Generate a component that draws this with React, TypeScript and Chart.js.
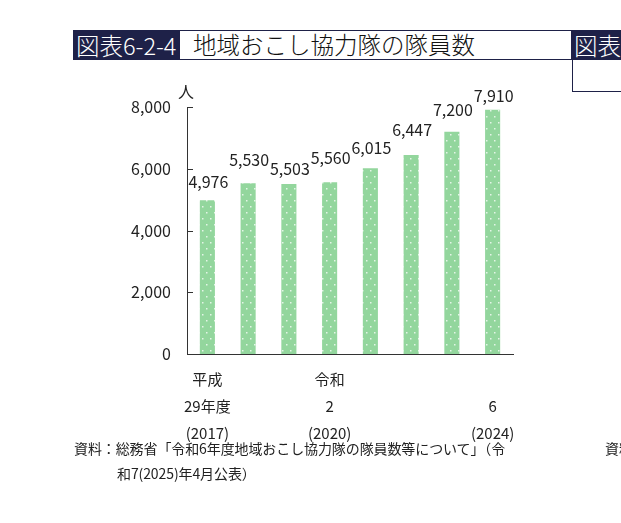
import { useEffect, useRef } from 'react';
import { Chart, registerables } from 'chart.js';

Chart.register(...registerables);

// data (地域おこし協力隊の隊員数)
const categories: string[][] = [
  ['平成', '29年度', '(2017)'],
  ['', '', ''],
  ['', '', ''],
  ['令和', '2', '(2020)'],
  ['', '', ''],
  ['', '', ''],
  ['', '', ''],
  ['', '6', '(2024)'],
];
const members = [4976, 5530, 5503, 5560, 6015, 6447, 7200, 7910];
const yTicks = [0, 2000, 4000, 6000, 8000];

// how far each value label sits above its bar (px), staggered like the print
const labelLift = [18, 23, 15, 24, 20, 25, 22, 14];

const NAVY = '#1e2148';
const GREEN = '#93d69d';
const JP = '"Noto Sans CJK JP", "Noto Sans", sans-serif';

// green fill with small white dots, like the printed bars
function dotPattern(): CanvasPattern | string {
  const c = document.createElement('canvas');
  c.width = 8;
  c.height = 12;
  const g = c.getContext('2d');
  if (!g) return GREEN;
  g.fillStyle = GREEN;
  g.fillRect(0, 0, 8, 12);
  g.fillStyle = 'rgba(255,255,255,0.75)';
  g.fillRect(2, 2, 1.5, 1.5);
  g.fillRect(6, 8, 1.5, 1.5);
  return g.createPattern(c, 'repeat') || GREEN;
}

const extrasPlugin = {
  id: 'extras',
  afterDraw: (chart: any) => {
    const { ctx, chartArea } = chart;
    const yScale = chart.scales.y;
    ctx.save();
    // inward tick marks on y axis
    ctx.strokeStyle = '#333';
    ctx.lineWidth = 1;
    yTicks.forEach((v) => {
      if (v === 0) return;
      const y = Math.round(yScale.getPixelForValue(v)) + 0.5;
      ctx.beginPath();
      ctx.moveTo(chartArea.left, y);
      ctx.lineTo(chartArea.left + 6, y);
      ctx.stroke();
    });
    // unit
    ctx.fillStyle = '#222';
    ctx.font = `16px ${JP}`;
    ctx.textAlign = 'center';
    ctx.textBaseline = 'middle';
    ctx.fillText('人', chartArea.left - 1, chartArea.top - 15);
    // value labels
    const meta = chart.getDatasetMeta(0);
    meta.data.forEach((bar: any, i: number) => {
      ctx.fillText(members[i].toLocaleString('en-US'), bar.x + 1, bar.y - labelLift[i]);
    });
    ctx.restore();
  },
};

function BarChart() {
  const canvasRef = useRef<HTMLCanvasElement | null>(null);

  useEffect(() => {
    if (!canvasRef.current) return;
    const chart = new Chart(canvasRef.current, {
      type: 'bar',
      data: {
        labels: categories,
        datasets: [
          {
            data: members,
            backgroundColor: dotPattern() as any,
            borderWidth: 0,
            categoryPercentage: 1,
            barPercentage: 0.37,
          },
        ],
      },
      options: {
        animation: false,
        responsive: false,
        devicePixelRatio: 1,
        layout: { padding: { left: 0, right: 108, top: 107, bottom: 49 } },
        plugins: { legend: { display: false }, tooltip: { enabled: false } },
        scales: {
          x: {
            grid: { display: false, drawTicks: false },
            border: { display: true, color: '#333', width: 1 },
            ticks: {
              autoSkip: false,
              maxRotation: 0,
              padding: 12,
              color: '#222',
              font: { family: JP, size: 15, lineHeight: 1.8 },
            },
            afterFit: (s: any) => {
              s.height = 120;
            },
          },
          y: {
            min: 0,
            max: 8000,
            grid: { display: false, drawTicks: false },
            border: { display: true, color: '#333', width: 1 },
            afterBuildTicks: (s: any) => {
              s.ticks = yTicks.map((v) => ({ value: v }));
            },
            ticks: {
              padding: 16,
              color: '#222',
              font: { family: JP, size: 16 },
              callback: (v: any) => Number(v).toLocaleString('en-US'),
            },
            afterFit: (s: any) => {
              s.width = 187;
            },
          },
        },
      },
      plugins: [extrasPlugin],
    });
    return () => chart.destroy();
  }, []);

  return (
    <canvas
      ref={canvasRef}
      width={621}
      height={523}
      style={{ position: 'absolute', left: 0, top: 0, width: 621, height: 523 }}
    />
  );
}

export default function App() {
  const txt: React.CSSProperties = { position: 'absolute', fontFamily: JP, color: '#222', whiteSpace: 'nowrap' };
  return (
    <div style={{ position: 'absolute', left: 0, top: 0, width: 621, height: 523, overflow: 'hidden', background: '#fff' }}>
      {/* title bar */}
      <div
        style={{
          position: 'absolute', left: 73, top: 30, width: 107, height: 30, background: NAVY, color: '#fff',
          fontFamily: JP, fontSize: 23.5, fontWeight: 300, lineHeight: '30px', paddingLeft: 3, boxSizing: 'border-box',
          whiteSpace: 'nowrap',
        }}
      >
        図表6-2-4
      </div>
      <div
        style={{
          position: 'absolute', left: 180, top: 30, width: 392, height: 30, borderTop: `1.5px solid ${NAVY}`,
          borderBottom: `1.5px solid ${NAVY}`, borderRight: `1.5px solid ${NAVY}`, boxSizing: 'border-box',
          fontFamily: JP, fontSize: 23.5, fontWeight: 300, lineHeight: '27px', paddingLeft: 13, color: '#111',
          whiteSpace: 'nowrap',
        }}
      >
        地域おこし協力隊の隊員数
      </div>
      {/* neighbouring figure, cut off at the right */}
      <div
        style={{
          position: 'absolute', left: 572, top: 30, width: 60, height: 30, background: NAVY, color: '#fff',
          fontFamily: JP, fontSize: 23.5, fontWeight: 300, lineHeight: '30px', paddingLeft: 2, boxSizing: 'border-box',
          whiteSpace: 'nowrap',
        }}
      >
        図表
      </div>
      <div
        style={{
          position: 'absolute', left: 572, top: 60, width: 60, height: 32, border: `1.5px solid ${NAVY}`,
          borderTop: 'none', boxSizing: 'border-box',
        }}
      />
      <BarChart />
      {/* source note */}
      <div style={{ ...txt, left: 74, top: 436, fontSize: 14, lineHeight: '25px', letterSpacing: '-0.1px' }}>
        資料：総務省「令和6年度地域おこし協力隊の隊員数等について」（令
        <br />
        <span style={{ paddingLeft: 43 }}>和7(2025)年4月公表）</span>
      </div>
      <div style={{ ...txt, left: 605, top: 436, fontSize: 14, lineHeight: '25px' }}>資料</div>
    </div>
  );
}
